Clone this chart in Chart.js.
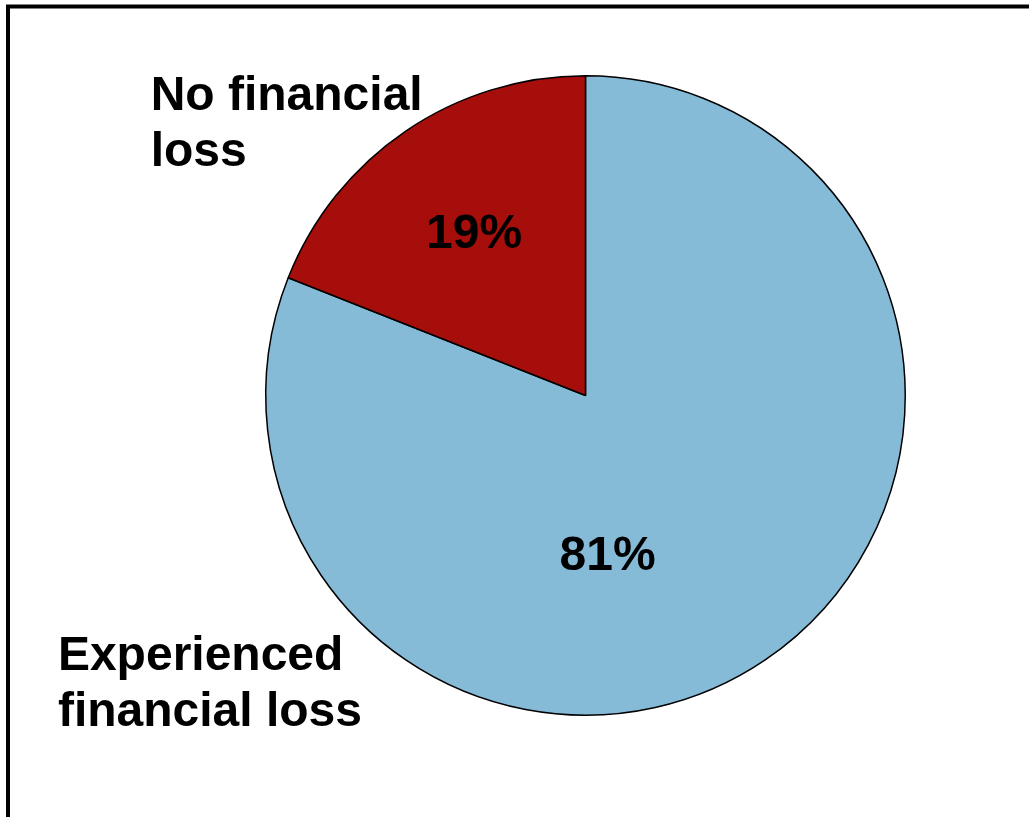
<!DOCTYPE html>
<html>
<head>
<meta charset="utf-8">
<title>Financial loss</title>
<script src="https://cdn.jsdelivr.net/npm/chart.js@4.4.0/dist/chart.umd.min.js"></script>
<style>
  html, body { margin: 0; padding: 0; background: #fff; overflow: hidden; }
  #wrap { position: relative; width: 1029px; height: 817px; }
</style>
</head>
<body>
<div id="wrap"><canvas id="lossChart"></canvas></div>
<script>
const categories = ['Experienced financial loss', 'No financial loss'];
const shares = [81, 19];
const sliceColors = ['#86bbd8', '#a50e0a'];

// where the % text sits inside each slice: fraction along the slice, fraction of radius
const pctAlong = [0.59, 0.5];
const pctRadius = [0.5, 0.62];

// category captions, placed relative to the pie centre in units of radius
const captions = [
  { lines: ['Experienced', 'financial loss'], dx: -1.65, dy: 0.86 },
  { lines: ['No financial', 'loss'], dx: -1.36, dy: -0.892 }
];

const FONT = 'bold 48px "Liberation Sans", Arial, sans-serif';

const framePlugin = {
  id: 'frame',
  beforeDraw(chart) {
    const ctx = chart.ctx;
    ctx.save();
    ctx.fillStyle = '#fff';
    ctx.fillRect(0, 0, chart.width, chart.height);
    ctx.strokeStyle = '#000';
    ctx.lineWidth = 4;
    ctx.strokeRect(8, 6.5, 1100, 1000);
    ctx.restore();
  }
};

const labelPlugin = {
  id: 'sliceLabels',
  afterDatasetsDraw(chart) {
    const ctx = chart.ctx;
    const arcs = chart.getDatasetMeta(0).data;
    ctx.save();
    ctx.font = FONT;
    ctx.fillStyle = '#000';

    arcs.forEach((arc, i) => {
      const p = arc.getProps(['x', 'y', 'startAngle', 'endAngle', 'outerRadius'], true);
      const a = p.startAngle + (p.endAngle - p.startAngle) * pctAlong[i];
      const r = p.outerRadius * pctRadius[i];
      ctx.textAlign = 'center';
      ctx.textBaseline = 'middle';
      ctx.fillText(shares[i] + '%', p.x + Math.cos(a) * r, p.y + Math.sin(a) * r + 3);

      const c = captions[i];
      ctx.textAlign = 'left';
      ctx.textBaseline = 'alphabetic';
      c.lines.forEach((line, k) => {
        ctx.fillText(line, p.x + c.dx * p.outerRadius, p.y + c.dy * p.outerRadius + k * 56);
      });
    });
    ctx.restore();
  }
};

new Chart(document.getElementById('lossChart'), {
  type: 'pie',
  data: {
    labels: categories,
    datasets: [{
      data: shares,
      backgroundColor: sliceColors,
      borderColor: '#000',
      borderWidth: 1.5
    }]
  },
  options: {
    responsive: true,
    maintainAspectRatio: false,
    animation: false,
    layout: { padding: { left: 265, right: 123, top: 75, bottom: 101 } },
    plugins: {
      legend: { display: false },
      tooltip: { enabled: false }
    }
  },
  plugins: [framePlugin, labelPlugin]
});
</script>
</body>
</html>
